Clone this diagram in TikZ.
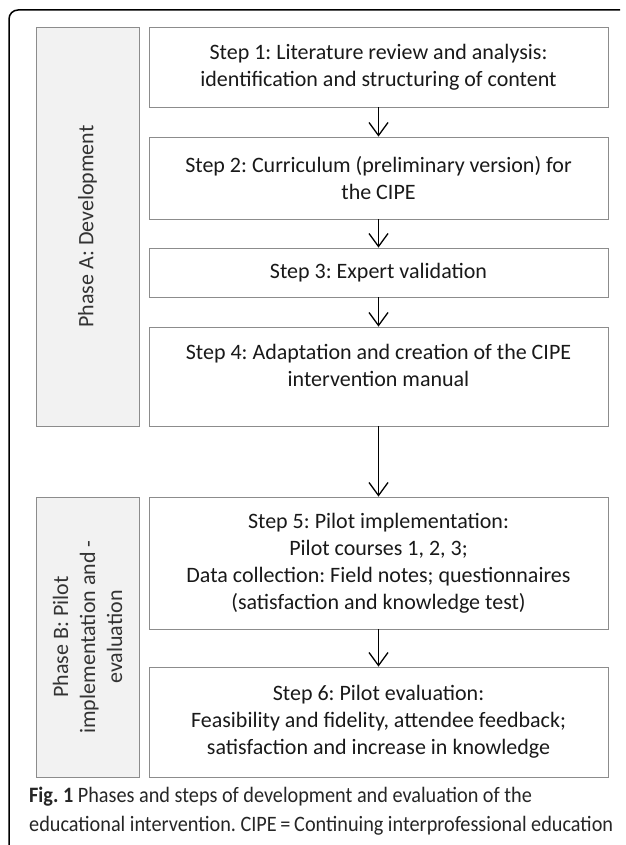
\documentclass[tikz,border=0pt]{standalone}
\usepackage{fontspec}
\setmainfont{Carlito}
\newfontfamily\capfont[FakeStretch=0.92]{Carlito}
\usetikzlibrary{arrows.meta}
\frenchspacing

\tikzset{
  stepbox/.style={draw=black!45, line width=0.8pt, minimum width=459pt,
    align=center, inner sep=0pt, text=black!90,
    font=\fontsize{22}{27}\selectfont},
  phasebox/.style={draw=black!45, fill=black!5, line width=0.8pt,
    minimum width=103pt, inner sep=0pt},
  phaselabel/.style={rotate=90, align=center, text=black!80,
    font=\fontsize{22}{27}\selectfont},
  flow/.style={-{Straight Barb[length=13pt,width=19pt]}, line width=1.3pt},
  captext/.style={anchor=base west, inner sep=0pt, text=black!85,
    font=\capfont\fontsize{22}{29}\selectfont}
}

\begin{document}
\begin{tikzpicture}[x=1pt,y=-1pt]
\useasboundingbox (0,0) rectangle (625,845);
% outer frame, cut off at right and bottom
\draw[line width=1.5pt, rounded corners=9pt] (620,10) -- (9,10) -- (9,846);

% phases
\node[phasebox, minimum height=399pt] (pa) at (87.5,226.5) {};
\node[phasebox, minimum height=280pt] (pb) at (87.5,637) {};
\node[phaselabel] (pal) at (pa.center) {Phase A: Development};
\node[phaselabel] (pbl) at (pb.center) {Phase B: Pilot\\implementation and -\\evaluation};

% steps
\node[stepbox, minimum height=80pt] (s1) at (378.5,67)
  {Step 1: Literature review and analysis:\\identification and structuring of content};
\node[stepbox, minimum height=82pt] (s2) at (378.5,178)
  {Step 2: Curriculum (preliminary version) for\\the CIPE};
\node[stepbox, minimum height=49pt] (s3) at (378.5,272.5)
  {Step 3: Expert validation};
\node[stepbox, minimum height=99pt] (s4) at (378.5,376.5)
  {Step 4: Adaptation and creation of the CIPE\\intervention manual\\[-5pt]\mbox{}};
\node[stepbox, minimum height=132pt] (s5) at (378.5,563)
  {Step 5: Pilot implementation:\\Pilot courses 1, 2, 3;\\Data collection: Field notes; questionnaires\\(satisfaction and knowledge test)};
\node[stepbox, minimum height=110pt] (s6) at (378.5,722)
  {Step 6: Pilot evaluation:\\Feasibility and fidelity, attendee feedback;\\satisfaction and increase in knowledge};

% arrows
\foreach \a/\b in {s1/s2,s2/s3,s3/s4,s4/s5,s5/s6}
  \draw[flow] (\a.south) -- (\b.north);

% caption
\node[captext] (cap1) at (29,802)
  {\textbf{Fig. 1} Phases and steps of development and evaluation of the};
\node[captext] (cap2) at (29,831)
  {educational intervention. CIPE\,=\,Continuing interprofessional education};
\end{tikzpicture}
\end{document}
